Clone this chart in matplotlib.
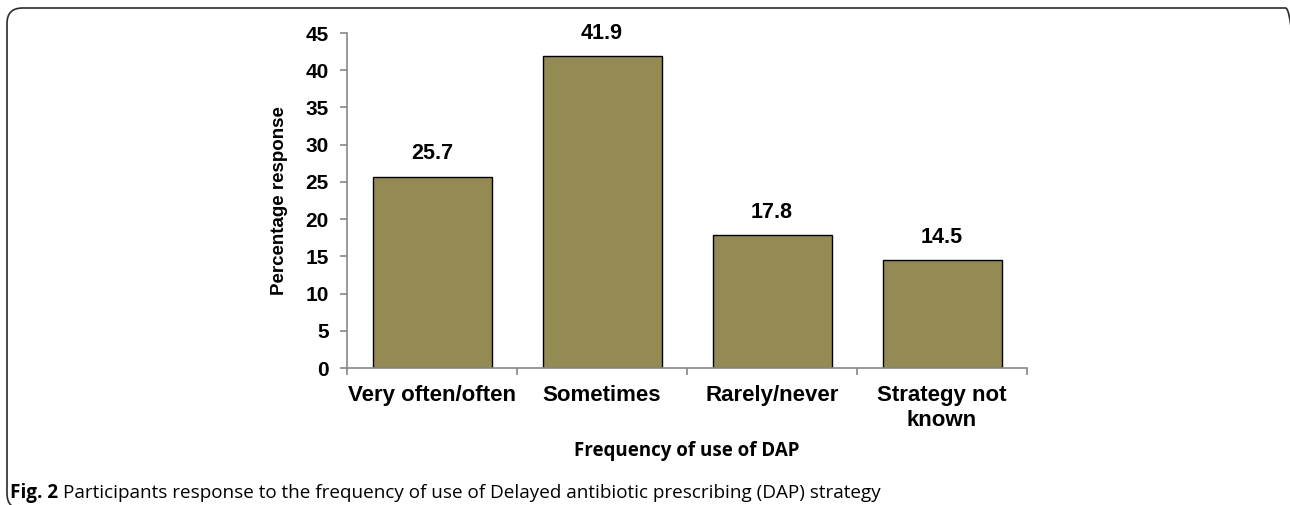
import matplotlib
matplotlib.use("Agg")
import matplotlib.pyplot as plt
from matplotlib.patches import FancyBboxPatch
import numpy as np

# Survey results: frequency of use of delayed antibiotic prescribing
categories = ["Very often/often", "Sometimes", "Rarely/never", "Strategy not\nknown"]
percentages = [25.7, 41.9, 17.8, 14.5]
yticks = [0, 5, 10, 15, 20, 25, 30, 35, 40, 45]

W, H = 1290, 505
fig = plt.figure(figsize=(W / 100, H / 100), dpi=100)

def fx(px):
    return px / W

def fy(py):
    return 1 - py / H

# Rounded panel border
frame = FancyBboxPatch((fx(7), fy(509)), fx(1301) - fx(7), fy(8) - fy(509),
                       boxstyle="round,pad=0,rounding_size=0.012",
                       transform=fig.transFigure, fill=False,
                       edgecolor="#2b2b2b", linewidth=1.2, mutation_aspect=W / H,
                       clip_on=False)
fig.patches.append(frame)

ax = fig.add_axes([fx(347), fy(368), fx(1027) - fx(347), fy(33) - fy(368)])

x = np.arange(len(categories))
bars = ax.bar(x, percentages, width=0.7, color="#948a54",
              edgecolor="black", linewidth=1.0, zorder=2)

for xi, v in zip(x, percentages):
    ax.annotate(f"{v}", (xi, v), xytext=(0, 9), textcoords="offset points",
                ha="center", va="bottom", fontsize=15.5, fontweight="bold",
                family="Liberation Sans")

ax.set_xlim(-0.5, len(categories) - 0.5)
ax.set_ylim(0, 45)
ax.set_yticks(yticks)
ax.set_yticklabels([str(t) for t in yticks], fontsize=15, fontweight="bold",
                   family="Liberation Sans")

ax.set_xticks(x)
ax.set_xticklabels(categories, fontsize=16, fontweight="bold",
                   family="Liberation Sans", linespacing=1.3)
ax.set_xticks(np.arange(-0.5, len(categories), 1.0), minor=True)
ax.tick_params(axis="x", which="major", length=0, pad=12)
ax.tick_params(axis="x", which="minor", length=5, color="#888888", width=1.2)
ax.tick_params(axis="y", length=5, color="#888888", width=1.2, pad=8)

for side in ("top", "right"):
    ax.spines[side].set_visible(False)
for side in ("left", "bottom"):
    ax.spines[side].set_color("#888888")
    ax.spines[side].set_linewidth(1.2)

ax.set_ylabel("Percentage response", fontsize=13.5, fontweight="bold",
              family="Liberation Sans")
ax.yaxis.set_label_coords((288 - 347) / (1027 - 347), 0.5)

fig.text(fx(687), fy(451), "Frequency of use of DAP", ha="center", va="center",
         fontsize=13.5, fontweight="bold", family="Open Sans")

# Caption with bold figure number
fig.canvas.draw()
renderer = fig.canvas.get_renderer()
t1 = fig.text(fx(10), fy(493), "Fig. 2", ha="left", va="center",
              fontsize=13.6, fontweight="bold", family="Open Sans")
bb = t1.get_window_extent(renderer=renderer)
fig.text(bb.x1 / W + fx(5), fy(493),
         "Participants response to the frequency of use of Delayed antibiotic prescribing (DAP) strategy",
         ha="left", va="center", fontsize=13.6, family="Open Sans")

fig.savefig("out.png", dpi=100)
